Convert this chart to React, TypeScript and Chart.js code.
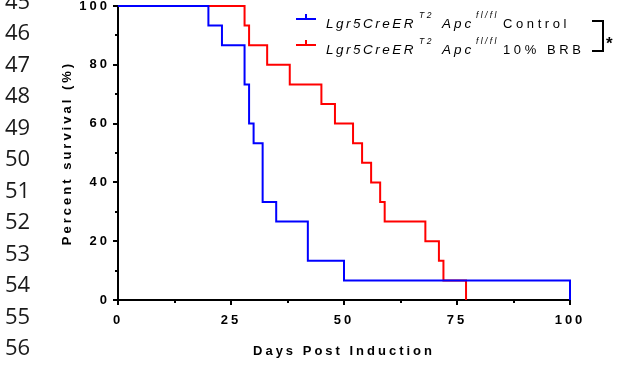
import React, { useEffect, useRef } from 'react';
import { Chart, registerables } from 'chart.js';

Chart.register(...registerables);

// Kaplan-Meier survival data (day of event, survival % after event)
const controlDays = [0, 20, 23, 28, 29, 30, 32, 35, 42, 50, 100];
const controlSurvival = [100, 93.33, 86.67, 73.33, 60, 53.33, 33.33, 26.67, 13.33, 6.67, 0];
const brbDays = [0, 28, 29, 33, 38, 45, 48, 52, 54, 56, 58, 59, 68, 71, 72, 77];
const brbSurvival = [100, 93.33, 86.67, 80, 73.33, 66.67, 60, 53.33, 46.67, 40, 33.33, 26.67, 20, 13.33, 6.67, 0];

const xTickValues = [0, 25, 50, 75, 100];
const xMinorTickValues = [12.5, 37.5, 62.5, 87.5];
const yTickValues = [0, 20, 40, 60, 80, 100];
const yMinorTickValues = [10, 30, 50, 70, 90];

const seriesLabels = ['Control', '10% BRB'];
const seriesColors = ['#0000ff', '#ff0000'];
const genotypeMain1 = 'Lgr5CreER';
const genotypeSup1 = 'T2';
const genotypeMain2 = 'Apc';
const genotypeSup2 = 'fl/fl';
const xAxisTitle = 'Days Post Induction';
const yAxisTitle = 'Percent survival (%)';
const significance = '*';
const lineNumbers = [45, 46, 47, 48, 49, 50, 51, 52, 53, 54, 55, 56];

const FONT = "'Liberation Sans', Arial, Helvetica, sans-serif";
const SPACING = '3px';

const spacingPlugin = {
  id: 'spacingAndMinorTicks',
  beforeUpdate(chart: any) {
    chart.ctx.letterSpacing = SPACING;
  },
  beforeDraw(chart: any) {
    chart.ctx.letterSpacing = SPACING;
  },
  afterDraw(chart: any) {
    const { ctx, scales } = chart;
    const xs = scales.x;
    const ys = scales.y;
    ctx.save();
    ctx.strokeStyle = '#000';
    ctx.lineWidth = 2;
    ctx.beginPath();
    for (const v of xMinorTickValues) {
      const px = Math.round(xs.getPixelForValue(v));
      ctx.moveTo(px, ys.bottom);
      ctx.lineTo(px, ys.bottom + 3);
    }
    for (const v of yMinorTickValues) {
      const py = Math.round(ys.getPixelForValue(v));
      ctx.moveTo(xs.left, py);
      ctx.lineTo(xs.left - 3, py);
    }
    ctx.stroke();
    ctx.restore();
  },
};

function toPoints(days: number[], surv: number[]) {
  return days.map((d, i) => ({ x: d, y: surv[i] }));
}

const tickFont = { family: FONT, size: 13, weight: 'bold' as const };

function LegendRow({ label, color, baseline }: { label: string; color: string; baseline: number }) {
  const lineH = 16;
  const mainTop = baseline - 12.5;
  const supTop = baseline - 10.8 - 10.9;
  const common: React.CSSProperties = {
    position: 'absolute',
    fontFamily: FONT,
    lineHeight: `${lineH}px`,
    color: '#000',
    whiteSpace: 'nowrap',
  };
  const symY = baseline - 10;
  return (
    <>
      <div style={{ position: 'absolute', left: 296, top: symY - 1, width: 20, height: 2, background: color }} />
      <div style={{ position: 'absolute', left: 305, top: symY - 5, width: 2, height: 5, background: color }} />
      <span style={{ ...common, left: 326, top: mainTop, fontSize: 13.5, fontStyle: 'italic', letterSpacing: '2.5px' }}>
        {genotypeMain1}
      </span>
      <span style={{ ...common, left: 419, top: supTop, fontSize: 8.5, fontStyle: 'italic', letterSpacing: '2.5px' }}>
        {genotypeSup1}
      </span>
      <span style={{ ...common, left: 442, top: mainTop, fontSize: 13.5, fontStyle: 'italic', letterSpacing: '3px' }}>
        {genotypeMain2}
      </span>
      <span style={{ ...common, left: 476, top: supTop, fontSize: 8.5, fontStyle: 'italic', letterSpacing: '2.4px' }}>
        {genotypeSup2}
      </span>
      <span style={{ ...common, left: 503, top: mainTop, fontSize: 13, letterSpacing: '3.6px' }}>{label}</span>
    </>
  );
}

export default function App() {
  const canvasRef = useRef<HTMLCanvasElement | null>(null);

  useEffect(() => {
    const canvas = canvasRef.current;
    if (!canvas) return;
    const chart = new Chart(canvas, {
      type: 'line',
      data: {
        datasets: [
          {
            label: seriesLabels[0],
            data: toPoints(controlDays, controlSurvival),
            borderColor: seriesColors[0],
            backgroundColor: seriesColors[0],
            borderWidth: 2,
            pointRadius: 0,
            stepped: 'before',
            fill: false,
            clip: false,
          },
          {
            label: seriesLabels[1],
            data: toPoints(brbDays, brbSurvival),
            borderColor: seriesColors[1],
            backgroundColor: seriesColors[1],
            borderWidth: 2,
            pointRadius: 0,
            stepped: 'before',
            fill: false,
            clip: false,
          },
        ],
      },
      options: {
        animation: false,
        responsive: false,
        maintainAspectRatio: false,
        devicePixelRatio: 1,
        layout: { padding: { left: 56, right: 50, top: 6, bottom: 0 } },
        plugins: { legend: { display: false }, tooltip: { enabled: false } },
        scales: {
          x: {
            type: 'linear',
            min: 0,
            max: 100,
            afterBuildTicks: (s: any) => {
              s.ticks = xTickValues.map((v) => ({ value: v }));
            },
            afterFit: (s: any) => {
              s.height = 66;
              s.paddingLeft = 0;
              s.paddingRight = 0;
            },
            ticks: { font: tickFont, color: '#000', padding: 8, maxRotation: 0, autoSkip: false },
            grid: {
              drawOnChartArea: false,
              tickLength: 5,
              tickWidth: 2,
              tickColor: '#000',
              color: '#000',
              lineWidth: 2,
            },
            border: { color: '#000', width: 2 },
            title: {
              display: true,
              text: xAxisTitle,
              font: tickFont,
              color: '#000',
              padding: { top: 0, bottom: 7 },
            },
          },
          y: {
            type: 'linear',
            min: 0,
            max: 100,
            afterBuildTicks: (s: any) => {
              s.ticks = yTickValues.map((v) => ({ value: v }));
            },
            afterFit: (s: any) => {
              s.width = 62;
              s.paddingTop = 0;
              s.paddingBottom = 0;
            },
            ticks: { font: tickFont, color: '#000', padding: 3, autoSkip: false },
            grid: {
              drawOnChartArea: false,
              tickLength: 5,
              tickWidth: 2,
              tickColor: '#000',
              color: '#000',
              lineWidth: 2,
            },
            border: { color: '#000', width: 2 },
            title: {
              display: true,
              text: yAxisTitle,
              font: tickFont,
              color: '#000',
              padding: { top: 4, bottom: 0 },
            },
          },
        },
      },
      plugins: [spacingPlugin],
    } as any);
    return () => chart.destroy();
  }, []);

  const baselines = [28.6, 54.8];

  return (
    <div
      style={{
        position: 'fixed',
        left: 0,
        top: 0,
        width: 620,
        height: 366,
        background: '#fff',
        overflow: 'hidden',
      }}
    >
      <canvas ref={canvasRef} width={620} height={366} style={{ position: 'absolute', left: 0, top: 0, width: 620, height: 366 }} />
      <div
        style={{
          position: 'absolute',
          left: 5,
          top: -15.4,
          fontFamily: "'Open Sans', sans-serif",
          fontSize: '22px',
          lineHeight: '31.5px',
          color: '#1a1a1a',
        }}
      >
        {lineNumbers.map((n) => (
          <div key={n}>{n}</div>
        ))}
      </div>
      {seriesLabels.map((lab, i) => (
        <LegendRow key={lab} label={lab} color={seriesColors[i]} baseline={baselines[i]} />
      ))}
      <div
        style={{
          position: 'absolute',
          left: 592,
          top: 20,
          width: 10,
          height: 28,
          borderTop: '2px solid #000',
          borderRight: '2px solid #000',
          borderBottom: '2px solid #000',
        }}
      />
      <div
        style={{
          position: 'absolute',
          left: 606,
          top: 36,
          fontFamily: FONT,
          fontWeight: 'bold',
          fontSize: '17px',
          lineHeight: '16px',
          color: '#000',
        }}
      >
        {significance}
      </div>
    </div>
  );
}
